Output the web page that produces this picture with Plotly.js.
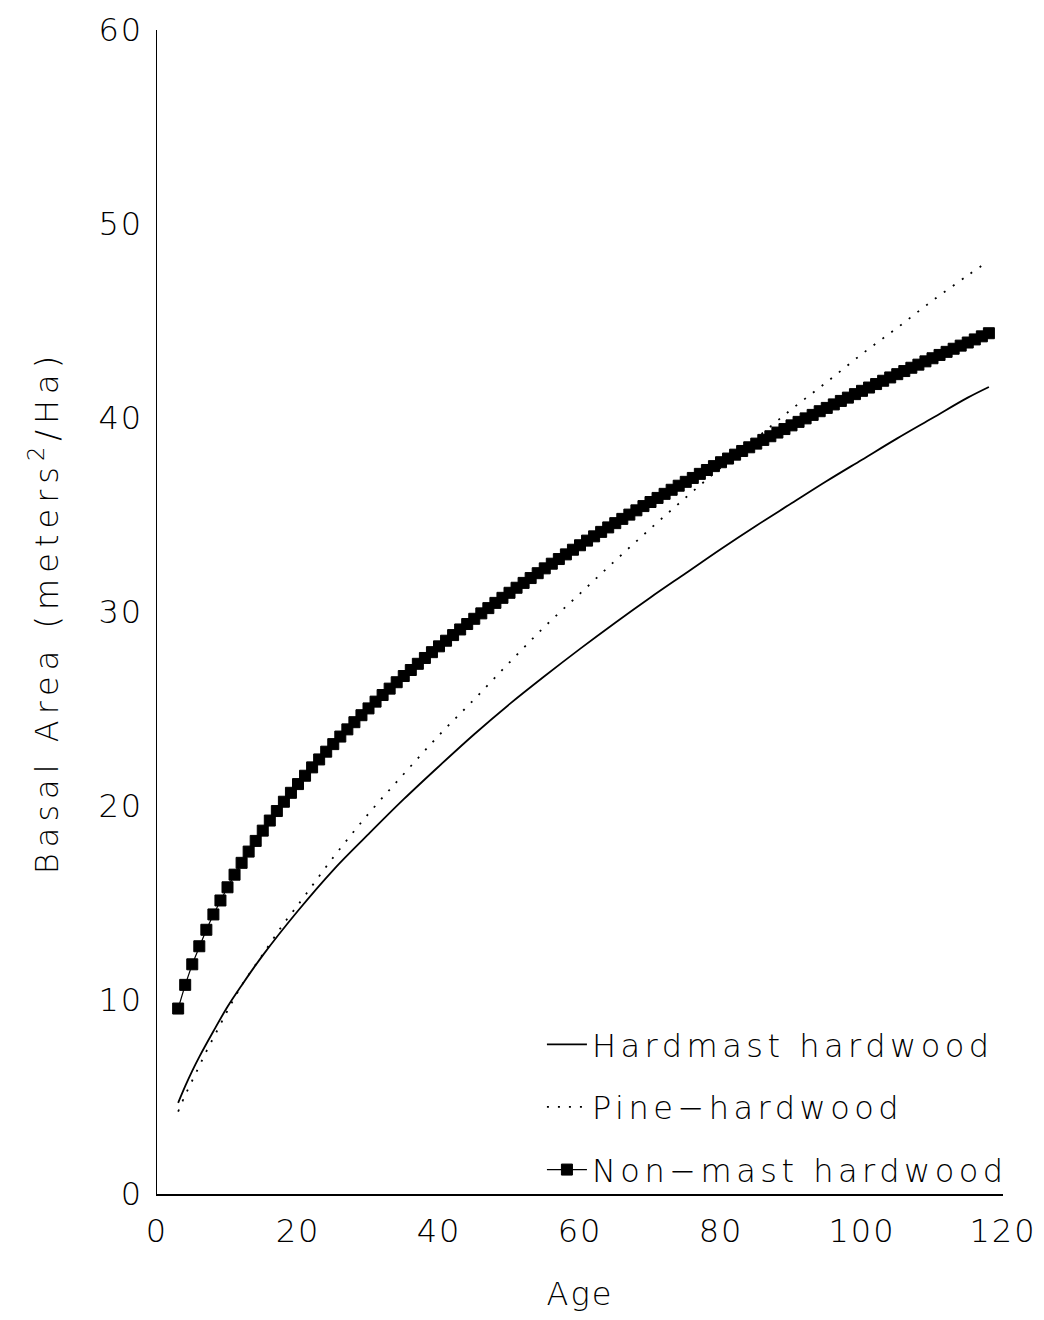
<!DOCTYPE html>
<html>
<head>
<meta charset="utf-8">
<script src="https://cdn.plot.ly/plotly-3.0.1.min.js"></script>
<style>
  body { margin:0; background:#fff; }
  .main-svg text { font-weight: 200 !important; }
  .legendtext { letter-spacing: 4.5px; }
  .xtick text, .ytick text { letter-spacing: 2px; }
  .ytitle { letter-spacing: 6px; }
  .xtitle { letter-spacing: 2px; }
</style>
</head>
<body>
<div id="chart" style="width:1044px;height:1320px;"></div>
<script>
// Hardmast hardwood (solid line)
const hardmastAge = [3,4,5,6,8,10,12,15,20,25,30,35,40,45,50,55,60,65,70,75,80,85,90,95,100,105,110,115,118];
const hardmastBA  = [4.70,5.56,6.35,7.07,8.39,9.65,10.75,12.3,14.6,16.7,18.55,20.35,22.05,23.7,25.25,26.7,28.1,29.45,30.75,32.0,33.25,34.45,35.6,36.75,37.85,38.95,40.0,41.05,41.6];

// Pine-hardwood (dotted line)
const pineAge = [3,4,5,6,7,8,9,10,12,15,18,20,25,30,35,40,45,50,55,60,65,70,75,80,85,90,95,100,105,110,115,118];
const pineBA  = [4.25,5.1,5.85,6.6,7.35,8.05,8.75,9.45,10.75,12.35,13.95,14.9,17.35,19.6,21.65,23.65,25.5,27.4,29.25,30.95,32.65,34.3,35.9,37.45,38.95,40.45,41.85,43.3,44.65,46.05,47.35,48.1];

// Non-mast hardwood (square markers, yearly)
const nonmastAge = [3,4,5,6,7,8,9,10,11,12,13,14,15,16,17,18,19,20,21,22,23,24,25,26,27,28,29,30,
  31,32,33,34,35,36,37,38,39,40,41,42,43,44,45,46,47,48,49,50,51,52,53,54,55,56,57,58,59,60,
  61,62,63,64,65,66,67,68,69,70,71,72,73,74,75,76,77,78,79,80,81,82,83,84,85,86,87,88,89,90,
  91,92,93,94,95,96,97,98,99,100,101,102,103,104,105,106,107,108,109,110,111,112,113,114,115,116,117,118];
const nonmastBA = [9.56,10.78,11.84,12.77,13.62,14.41,15.13,15.81,16.46,17.07,17.65,18.20,18.73,19.25,19.74,20.22,20.68,21.13,21.56,21.99,22.40,22.80,23.19,23.58,23.95,24.32,24.68,25.03,
  25.38,25.72,26.05,26.38,26.70,27.01,27.33,27.63,27.93,28.23,28.52,28.81,29.10,29.38,29.65,29.93,30.20,30.47,30.73,30.99,31.25,31.50,31.75,32.00,32.25,32.49,32.73,32.97,33.21,33.44,
  33.68,33.90,34.13,34.36,34.58,34.80,35.02,35.24,35.46,35.67,35.88,36.09,36.30,36.51,36.71,36.91,37.12,37.32,37.52,37.72,37.91,38.11,38.30,38.49,38.68,38.87,39.06,39.25,39.43,39.62,
  39.80,39.98,40.16,40.35,40.52,40.70,40.88,41.05,41.23,41.40,41.57,41.75,41.92,42.09,42.26,42.42,42.59,42.75,42.92,43.08,43.25,43.41,43.57,43.73,43.89,44.05,44.21,44.37];

const xTicks = [0,20,40,60,80,100,120];
const yTicks = [0,10,20,30,40,50,60];

const traces = [
  { x: hardmastAge, y: hardmastBA, name: 'Hardmast hardwood', legendgroup:'a', mode: 'lines',
    line: { color: '#000', width: 1.8, shape: 'spline' } },
  { x: pineAge, y: pineBA, name: 'Pine\u2212hardwood', legendgroup:'b', mode: 'lines',
    line: { color: '#000', width: 1.8, dash: '2px,9px', shape: 'spline' } },
  { x: nonmastAge, y: nonmastBA, name: 'Non\u2212mast hardwood', legendgroup:'c', mode: 'lines+markers',
    line: { color: '#000', width: 1.2 },
    marker: { symbol: 'square', size: 11, color: '#000', line: { color: '#000', width: 1 } } }
];

const layout = {
  width: 1044, height: 1320,
  margin: { l: 157, r: 41, t: 30, b: 126 },
  paper_bgcolor: '#fff', plot_bgcolor: '#fff',
  font: { family: 'DejaVu Sans, sans-serif', color: '#000', size: 32 },
  showlegend: true,
  legend: {
    x: 0.455, y: 0.152, xanchor: 'left', yanchor: 'top',
    bgcolor: 'rgba(0,0,0,0)', borderwidth: 0,
    font: { size: 32, color: '#000' },
    traceorder: 'grouped', tracegroupgap: 18, itemwidth: 40
  },
  xaxis: {
    range: [0, 120], tickvals: xTicks, ticks: '', ticklabelstandoff: 8,
    showgrid: false, zeroline: false, showline: true, linecolor: '#000', linewidth: 1.5,
    tickfont: { size: 32, color: '#000' },
    title: { text: 'Age', font: { size: 32, color: '#000' }, standoff: 33 },
    automargin: false
  },
  yaxis: {
    range: [0, 60], tickvals: yTicks, ticks: '', ticklabelstandoff: 6,
    showgrid: false, zeroline: false, showline: true, linecolor: '#000', linewidth: 1.5,
    tickfont: { size: 32, color: '#000' },
    title: { text: 'Basal Area (meters<sup>2</sup>/Ha)', font: { size: 32, color: '#000' }, standoff: 30 },
    automargin: false
  }
};

Plotly.newPlot('chart', traces, layout, { displayModeBar: false, staticPlot: true });
</script>
</body>
</html>
